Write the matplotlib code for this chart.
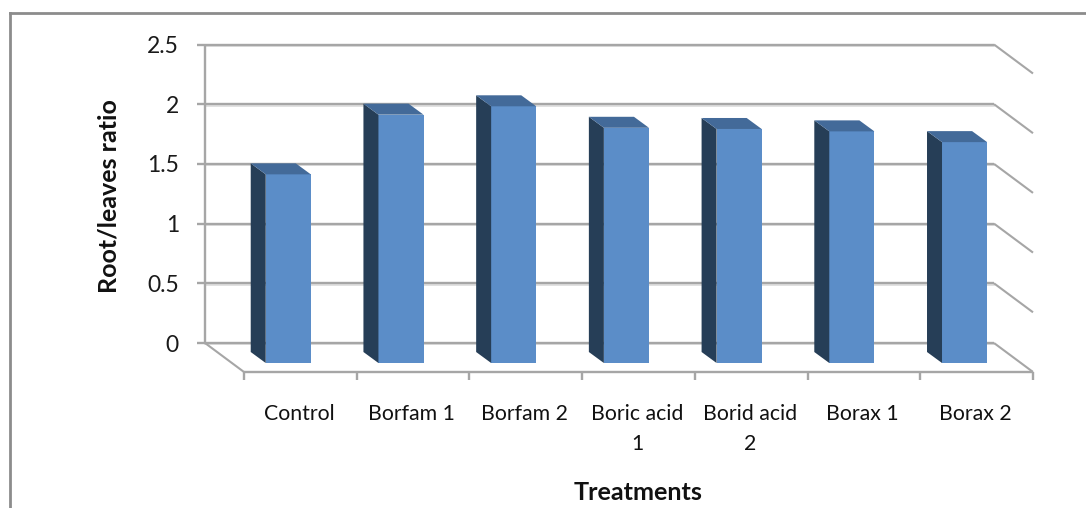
import matplotlib
matplotlib.use("Agg")
import matplotlib.pyplot as plt
from matplotlib.patches import Polygon, Rectangle

categories = ["Control", "Borfam 1", "Borfam 2", "Boric acid\n1", "Borid acid\n2", "Borax 1", "Borax 2"]
values = [1.58, 2.08, 2.15, 1.97, 1.96, 1.94, 1.85]
y_ticks = [0, 0.5, 1, 1.5, 2, 2.5]
y_tick_labels = ["0", "0.5", "1", "1.5", "2", "2.5"]

plt.rcParams["font.family"] = ["Lato", "DejaVu Sans"]

W, H = 1086, 508
fig = plt.figure(figsize=(W / 100, H / 100), dpi=100)

# axes is the front plane of the 3d box, everything else is shifted from it
left, right, bottom = 244, 1033, 372
y_unit = 119.4
ax = fig.add_axes([left / W, 1 - bottom / H, (right - left) / W, 2.5 * y_unit / H])
ax.set_xlim(0, 7)
ax.set_ylim(0, 2.5)
ax.axis("off")
x_unit = (right - left) / 7

# depth of the box in pixels
wall_dx, wall_dy = 39, 29
bar_dx, bar_dy = 15, 11
front_gap = 0.31   # how far the bar front sits behind the axis, as part of the depth
bar_w = 0.40

grid_col = "#a6a6a6"
shadow = "#dcdcdc"


def pt(x, y, px=0, py=0):
    # data point moved back by px, py pixels
    return (x - px / x_unit, y + py / y_unit)


def line(p, q, col=grid_col, lw=1.7, z=1):
    ax.plot([p[0], q[0]], [p[1], q[1]], color=col, lw=lw, clip_on=False, zorder=z, solid_capstyle="butt")


# walls and gridlines
for t, lab in zip(y_ticks, y_tick_labels):
    a = pt(0, t, wall_dx, wall_dy)
    b = pt(7, t, wall_dx, wall_dy)
    c = pt(7, t)
    tick = pt(-8 / x_unit, t, wall_dx, wall_dy)
    line(tick, b)
    line(b, c, lw=1.5)
    s = (0, -1.3 / y_unit)
    ax.plot([a[0], b[0]], [a[1] + s[1], b[1] + s[1]], color=shadow, lw=1.2, zorder=0.5, clip_on=False)
    ax.text(tick[0] - 18 / x_unit, tick[1] - 2 / y_unit, lab, ha="right", va="center", fontsize=16.5, color="#1a1a1a")

line(pt(0, 0, wall_dx, wall_dy), pt(0, 2.5, wall_dx, wall_dy))

# floor
line(pt(0, 0, wall_dx, wall_dy), pt(0, 0), lw=1.5)
line(pt(0, 0), pt(7, 0))
for i in range(8):
    line(pt(i, 0), pt(i, -8 / y_unit))

# bars
for i, v in enumerate(values):
    x0 = i + 0.5 - bar_w / 2
    x1 = i + 0.5 + bar_w / 2
    gx, gy = wall_dx * front_gap, wall_dy * front_gap
    fl = pt(x0, 0, gx, gy)
    fr = pt(x1, 0, gx, gy)
    tl = pt(x0, v, gx, gy)
    tr = pt(x1, v, gx, gy)
    ax.add_patch(Rectangle(fl, fr[0] - fl[0], tl[1] - fl[1], fc="#5b8dc8", ec="none", zorder=3, clip_on=False))
    side = [fl, tl, pt(tl[0], tl[1], bar_dx, bar_dy), pt(fl[0], fl[1], bar_dx, bar_dy)]
    ax.add_patch(Polygon(side, fc="#263e57", ec="none", zorder=3, clip_on=False))
    top = [tl, tr, pt(tr[0], tr[1], bar_dx, bar_dy), pt(tl[0], tl[1], bar_dx, bar_dy)]
    ax.add_patch(Polygon(top, fc="#436a99", ec="none", zorder=3, clip_on=False))
    ax.text(i + 0.5 - 1.5 / x_unit, -32 / y_unit, categories[i], ha="center", va="top", fontsize=15.3, color="#111111", linespacing=1.65)

# axis titles
fig.text(638.5 / W, 1 - 492 / H, "Treatments", ha="center", va="center", fontsize=18.2, fontweight="bold", color="#111111")
fig.text(109 / W, 1 - 196 / H, "Root/leaves ratio", ha="center", va="center", rotation=90, fontsize=18, fontweight="bold", color="#111111")

# chart frame
frame_col = "#8c8c8c"
fig.add_artist(plt.Line2D([9.5 / W, 9.5 / W], [0, 1 - 12.5 / H], color=frame_col, lw=2))
fig.add_artist(plt.Line2D([9.5 / W, 1], [1 - 12.5 / H, 1 - 12.5 / H], color=frame_col, lw=2))

fig.savefig("out.png", dpi=100)
